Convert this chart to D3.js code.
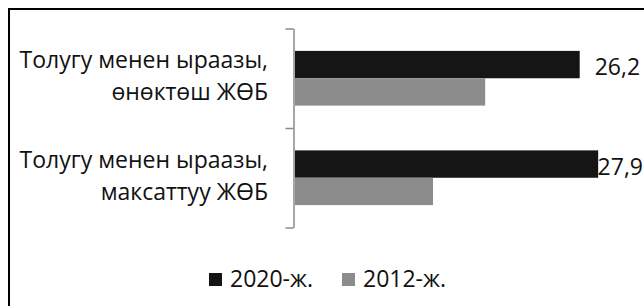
<!DOCTYPE html>
<html>
<head>
<meta charset="utf-8">
<script src="https://cdn.jsdelivr.net/npm/d3@7"></script>
<style>
  body { margin: 0; background: #fff; }
  svg { display: block; font-family: "Open Sans", sans-serif; }
</style>
</head>
<body>
<div id="app"></div>
<script>
const categories = [
  ["Толугу менен ыраазы,", "өнөктөш ЖӨБ"],
  ["Толугу менен ыраазы,", "максаттуу ЖӨБ"]
];
const seriesNames = ["2020-ж.", "2012-ж."];
const values2020 = [26.2, 27.9];
const values2012 = [17.5, 12.7];
const valueLabels = ["26,2", "27,9"];

const w = 644;
const h = 306;
const colors = ["#151515", "#8c8c8c"];
const fontSize = 23;

const svg = d3.select("#app").append("svg").attr("width", w).attr("height", h);

// frame (only top and left edge visible)
svg.append("path")
  .attr("d", `M9,${h} V9 H${w}`)
  .attr("fill", "none")
  .attr("stroke", "#000")
  .attr("stroke-width", 2);

//scales
const x = d3.scaleLinear().domain([0, 30]).range([295, 621]);
const yEdge = d3.scaleLinear().domain([0, categories.length]).range([28.5, 227.5]);
const y = d3.scaleBand()
  .domain(d3.range(categories.length))
  .range([28.5, 227.5])
  .paddingInner(0.45)
  .paddingOuter(0.225);
const ySub = d3.scaleBand().domain([0, 1]).range([0, y.bandwidth()]);

//category axis, ticks between categories
svg.append("g")
  .attr("transform", "translate(293.5,0)")
  .call(d3.axisLeft(yEdge).tickValues(d3.range(categories.length + 1)).tickSize(8).tickSizeOuter(0).tickFormat(""))
  .call(g => g.selectAll("path, line").attr("stroke", "#8a8a8a").attr("stroke-width", 1.5));

//bars
const series = [values2020, values2012];
series.forEach((vals, s) => {
  svg.append("g")
    .selectAll("rect")
    .data(vals)
    .enter()
    .append("rect")
    .attr("x", x(0))
    .attr("y", (d, i) => y(i) + ySub(s))
    .attr("width", d => x(d) - x(0))
    .attr("height", ySub.bandwidth())
    .attr("fill", colors[s]);
});

//value labels for 2020 (pushed back inside if they would overflow)
svg.append("g")
  .selectAll("text")
  .data(values2020)
  .enter()
  .append("text")
  .attr("y", (d, i) => y(i) + ySub(0) + ySub.bandwidth() / 2)
  .attr("dy", "0.46em")
  .attr("font-size", fontSize)
  .attr("fill", "#111")
  .text((d, i) => valueLabels[i])
  .attr("x", function (d) {
    const tw = this.getComputedTextLength();
    return Math.min(x(d) + 15, w - 1 - tw);
  });

//category labels
const labels = svg.append("g")
  .selectAll("text")
  .data(categories)
  .enter()
  .append("text")
  .attr("text-anchor", "end")
  .attr("font-size", fontSize)
  .attr("fill", "#111")
  .attr("y", (d, i) => yEdge(i + 0.5) - 10);
labels.selectAll("tspan")
  .data(d => d)
  .enter()
  .append("tspan")
  .attr("x", 268)
  .attr("dy", (d, j) => (j === 0 ? 0 : 32))
  .text(d => d);

//legend
const legend = svg.append("g").attr("transform", "translate(209,279)");
const legendX = [0, 133];
seriesNames.forEach((name, s) => {
  const g = legend.append("g").attr("transform", `translate(${legendX[s]},0)`);
  g.append("rect").attr("x", 0).attr("y", -6).attr("width", 13).attr("height", 13).attr("fill", colors[s]);
  g.append("text")
    .attr("x", 21)
    .attr("y", 0)
    .attr("dy", "0.35em")
    .attr("font-size", fontSize)
    .attr("fill", "#111")
    .text(name);
});
</script>
</body>
</html>
